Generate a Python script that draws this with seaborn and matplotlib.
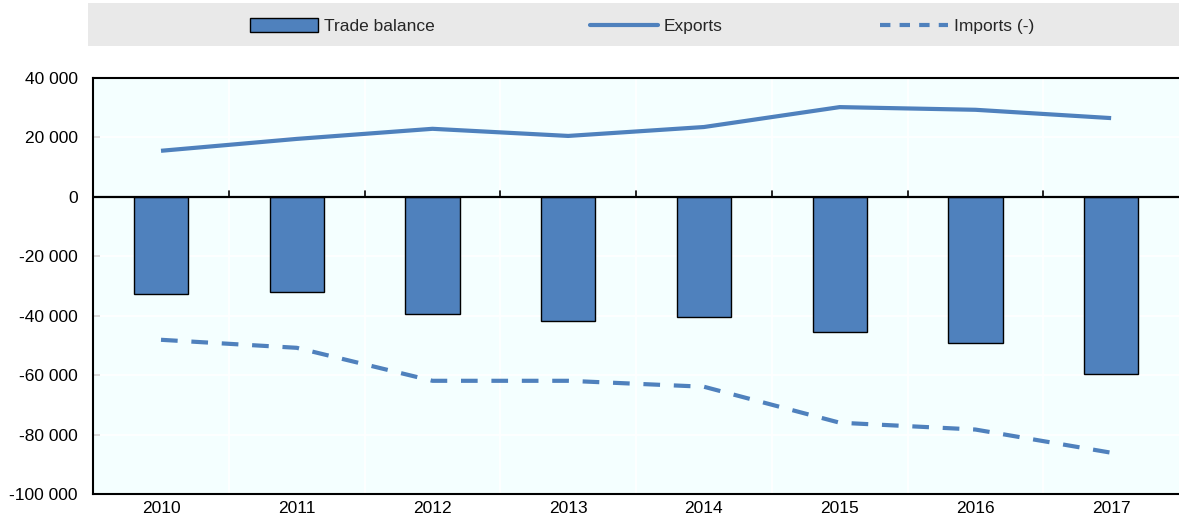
import pandas as pd
import numpy as np
import matplotlib.pyplot as plt
import matplotlib.transforms as mtransforms
from matplotlib import font_manager
from matplotlib.patches import Rectangle, Patch
from matplotlib.lines import Line2D
import seaborn as sns

# --- DATA ---
years = ['2010', '2011', '2012', '2013', '2014', '2015', '2016', '2017']
trade_balance = [-32600, -31900, -39300, -41700, -40300, -45400, -49100, -59500]
exports = [15500, 19500, 22900, 20500, 23500, 30200, 29300, 26500]
imports = [-48100, -50800, -61900, -61900, -63900, -76000, -78300, -86100]
y_ticks = [40000, 20000, 0, -20000, -40000, -60000, -80000, -100000]

# --- STYLE ---
sns.set_theme(style="white")
names = {f.name for f in font_manager.fontManager.ttflist}
family = 'Liberation Sans Narrow' if 'Liberation Sans Narrow' in names else 'Liberation Sans'
plt.rcParams['font.family'] = [family, 'DejaVu Sans']
fsize = 14 if family == 'Liberation Sans Narrow' else 12.5

blue = '#4F81BD'
bg = '#F4FFFF'

df = pd.DataFrame({'year': years, 'balance': trade_balance,
                   'exports': exports, 'imports': imports})

fig = plt.figure(figsize=(11.79, 5.22), dpi=100)
ax = fig.add_axes([0.079, 0.0536, 0.921, 0.797])
ax.set_facecolor(bg)

sns.barplot(data=df, x='year', y='balance', color=blue, width=0.4,
            edgecolor='black', linewidth=1, saturation=1, ax=ax, zorder=3)
sns.lineplot(data=df, x='year', y='exports', color=blue, lw=3, ax=ax,
             zorder=4, solid_capstyle='butt')
sns.lineplot(data=df, x='year', y='imports', color=blue, lw=3, ax=ax,
             zorder=4, dashes=False, linestyle=(0, (4, 3.3)))

ax.set_xlim(-0.5, len(years) - 0.5)
ax.set_ylim(-100000, 40000)
ax.set_yticks(y_ticks)
ax.set_yticklabels([f'{v:,}'.replace(',', ' ') for v in y_ticks], fontsize=fsize)
ax.set_xticks(range(len(years)))
ax.set_xticklabels(years, fontsize=fsize)
ax.set_xlabel('')
ax.set_ylabel('')

# white grid
for v in y_ticks:
    ax.axhline(v, color='white', lw=1.2, zorder=1)
for b in np.arange(0.5, len(years) - 0.5, 1):
    ax.axvline(b, color='white', lw=1.2, zorder=1)
ax.axhline(0, color='black', lw=1.6, zorder=5)

# small ticks on the zero line between categories
trans = mtransforms.blended_transform_factory(ax.transData, ax.transAxes)
zero_frac = (0 - (-100000)) / 140000
for b in np.arange(0.5, len(years) - 0.5, 1):
    ax.plot([b, b], [zero_frac, zero_frac + 0.014], transform=trans,
            color='black', lw=1.2, zorder=5)

ax.tick_params(axis='x', length=0, pad=5, colors='black')
ax.tick_params(axis='y', direction='in', length=5, width=1.2, left=True, pad=11,
               colors='black')
for s in ['left', 'top', 'bottom']:
    ax.spines[s].set_color('black')
    ax.spines[s].set_linewidth(1.5)
ax.spines['right'].set_visible(False)

# legend band
fig.patches.append(Rectangle((88 / 1179, 1 - 46 / 522), 1 - 88 / 1179, 43 / 522,
                             transform=fig.transFigure, facecolor='#E9E9E9',
                             edgecolor='none', zorder=0))
handles = [Patch(facecolor=blue, edgecolor='black', linewidth=1),
           Line2D([], [], color=blue, lw=3),
           Line2D([], [], color=blue, lw=3, linestyle=(0, (2.5, 2.2)))]
labels = ['Trade balance', 'Exports', 'Imports (-)']
starts = [250, 590, 880]
em = fsize * 100 / 72
for h, lab, x0 in zip(handles, labels, starts):
    fig.legend([h], [lab], loc='center left',
               bbox_to_anchor=(x0 / 1179, 1 - 26 / 522),
               frameon=False, fontsize=fsize, borderpad=0, borderaxespad=0,
               handlelength=68 / em, handleheight=0.9, handletextpad=0.35)

fig.savefig('out.png', dpi=100)
